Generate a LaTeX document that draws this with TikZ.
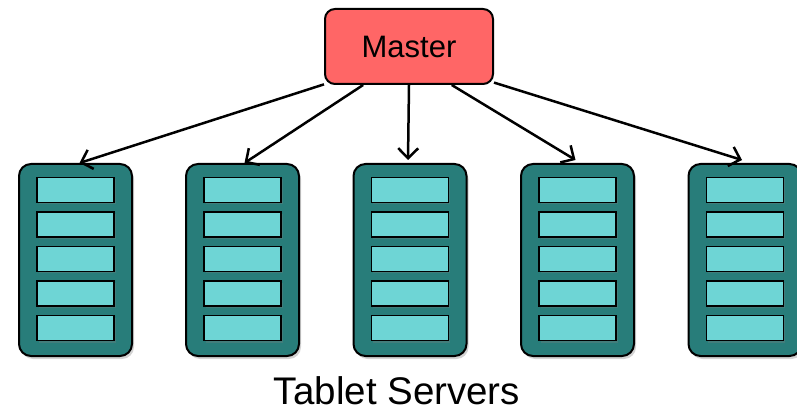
\documentclass[tikz,border=0pt]{standalone}
\usepackage{fontspec}
\setmainfont{Liberation Sans}
\usetikzlibrary{arrows.meta,shadows}
\definecolor{masterred}{RGB}{255,102,102}
\definecolor{serverteal}{RGB}{40,125,122}
\definecolor{cellcyan}{RGB}{110,213,213}
\begin{document}
\begin{tikzpicture}[x=1pt,y=-1pt,
  master node/.style={rectangle,rounded corners=10pt,draw,line width=2pt,fill=masterred,
    minimum width=168pt,minimum height=75pt,font=\fontsize{31}{31}\selectfont},
  server node/.style={rectangle,rounded corners=12pt,draw,line width=2pt,fill=serverteal,
    minimum width=113pt,minimum height=192pt,
    drop shadow={opacity=0.35,shadow xshift=2pt,shadow yshift=-3pt}},
  cell node/.style={rectangle,draw,line width=1.5pt,fill=cellcyan,
    minimum width=77pt,minimum height=25pt,inner sep=0pt,
    drop shadow={opacity=0.3,shadow xshift=1.5pt,shadow yshift=-2pt}}]

  \useasboundingbox (0,0) rectangle (797,411);

  \node[master node] (master) at (409,46.5){Master};

  \node[server node] (s1) at (75.5,260){};
  \node[server node] (s2) at (242.5,260){};
  \node[server node] (s3) at (410,260){};
  \node[server node] (s4) at (577.5,260){};
  \node[server node] (s5) at (745,260){};

  \foreach \s/\x in {1/75.5,2/242.5,3/410,4/577.5,5/745}
    \foreach \r/\y in {1/190,2/224.5,3/259,4/293.5,5/328}
      \node[cell node] (s\s-\r) at (\x,\y){};

  \node[font=\fontsize{38.5}{38.5}\selectfont,inner sep=0pt] (label) at (397,391){Tablet Servers};

  \path[line width=2.5pt,-{Straight Barb[length=10pt,width=20pt,line width=2.5pt]}]
    (master.204) edge ([xshift=4pt]s1.north)
    (master.220) edge ([xshift=2pt]s2.north)
    (master.270) edge ([xshift=-2pt,yshift=3pt]s3.north)
    (master.318) edge ([xshift=-2pt,yshift=3pt]s4.north)
    (master.337) edge ([xshift=-3pt,yshift=3pt]s5.north);
\end{tikzpicture}
\end{document}
